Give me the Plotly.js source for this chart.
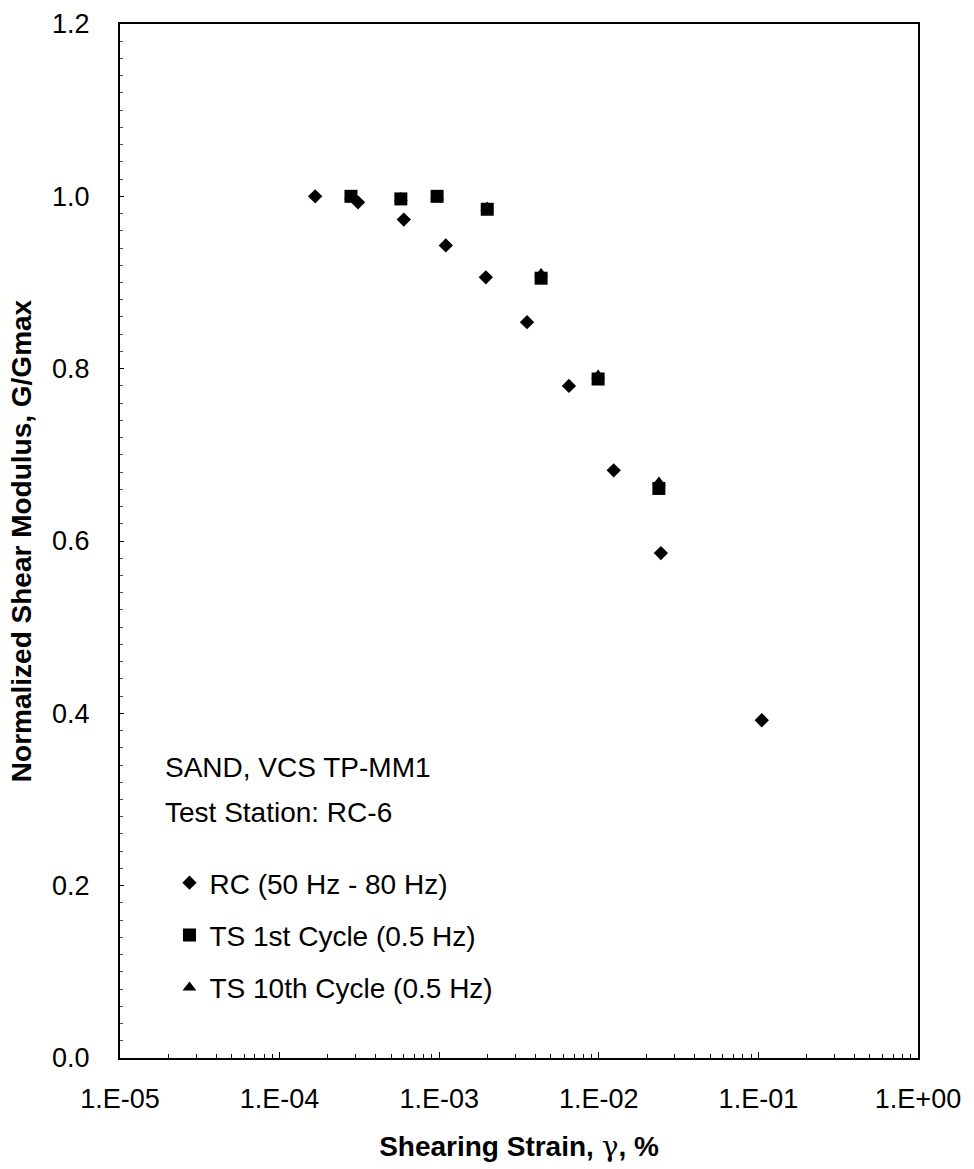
<!DOCTYPE html>
<html>
<head>
<meta charset="utf-8">
<script src="https://cdn.plot.ly/plotly-3.0.1.min.js"></script>
<style>html,body{margin:0;padding:0;background:#fff;}#chart{width:974px;height:1169px;}</style>
</head>
<body>
<div id="chart"></div>
<script>
// RC (50 Hz - 80 Hz)
const rcStrain = [1.67e-4, 3.1e-4, 6.0e-4, 1.1e-3, 1.96e-3, 3.55e-3, 6.5e-3, 1.24e-2, 2.45e-2, 1.05e-1];
const rcG      = [1.000, 0.993, 0.973, 0.943, 0.906, 0.854, 0.780, 0.682, 0.586, 0.392];
// TS 1st Cycle (0.5 Hz)
const ts1Strain = [2.8e-4, 5.75e-4, 9.7e-4, 2.0e-3, 4.35e-3, 9.9e-3, 2.38e-2];
const ts1G      = [1.000, 0.997, 1.000, 0.985, 0.905, 0.788, 0.661];
// TS 10th Cycle (0.5 Hz)
const ts10Strain = [2.8e-4, 5.75e-4, 9.7e-4, 2.0e-3, 4.35e-3, 9.9e-3, 2.38e-2];
const ts10G      = [1.000, 0.998, 1.000, 0.987, 0.910, 0.792, 0.668];

const xTickVals = [1e-5, 1e-4, 1e-3, 1e-2, 1e-1, 1];
const xTickText = ["1.E-05", "1.E-04", "1.E-03", "1.E-02", "1.E-01", "1.E+00"];
const yTickVals = [0, 0.2, 0.4, 0.6, 0.8, 1.0, 1.2];
const yTickText = ["0.0", "0.2", "0.4", "0.6", "0.8", "1.0", "1.2"];

const FONT = "Liberation Sans, Arial, sans-serif";

const traces = [
  {x: ts10Strain, y: ts10G, name: "TS 10th Cycle (0.5 Hz)", legendgroup: "c", legendrank: 3, mode: "markers", type: "scatter",
   marker: {symbol: "triangle-up", size: 12, color: "#000"}},
  {x: ts1Strain, y: ts1G, name: "TS 1st Cycle (0.5 Hz)", legendgroup: "b", legendrank: 2, mode: "markers", type: "scatter",
   marker: {symbol: "square", size: 13, color: "#000"}},
  {x: rcStrain, y: rcG, name: "RC (50 Hz - 80 Hz)", legendgroup: "a", legendrank: 1, mode: "markers", type: "scatter",
   marker: {symbol: "diamond", size: 11, color: "#000"}}
];

const layout = {
  width: 974, height: 1169,
  margin: {l: 120, r: 56, t: 24, b: 111},
  paper_bgcolor: "#fff", plot_bgcolor: "#fff",
  font: {family: FONT, size: 27, color: "#000"},
  showlegend: true,
  legend: {x: 0.062, y: 0.1934, xanchor: "left", yanchor: "top", bgcolor: "rgba(0,0,0,0)",
           font: {family: FONT, size: 28, color: "#000"}, tracegroupgap: 13, traceorder: "grouped", itemwidth: 30},
  xaxis: {
    type: "log", range: [-5, 0], tickvals: xTickVals, ticktext: xTickText,
    showgrid: false, zeroline: false, showline: true, linecolor: "#000", linewidth: 2, mirror: true,
    ticks: "inside", ticklen: 6, tickcolor: "#000", ticklabelstandoff: 16,
    minor: {ticks: "inside", ticklen: 4, tickcolor: "#000", dtick: "D1", showgrid: false},
    tickfont: {family: FONT, size: 27, color: "#000"},
    title: {text: "<b>Shearing Strain, <span style='font-family:DejaVu Serif, serif;font-weight:normal'>γ</span>, %</b>", font: {family: FONT, size: 28, color: "#000"}, standoff: 23}
  },
  yaxis: {
    range: [0, 1.2], tickvals: yTickVals, ticktext: yTickText,
    showgrid: false, zeroline: false, showline: true, linecolor: "#000", linewidth: 2, mirror: true,
    ticks: "inside", ticklen: 4, tickcolor: "#000", ticklabelstandoff: 23,
    minor: {ticks: "inside", ticklen: 3, tickcolor: "#555", dtick: 0.02, showgrid: false},
    tickfont: {family: FONT, size: 27, color: "#000"},
    title: {text: "<b>Normalized Shear Modulus, G/Gmax</b>", font: {family: FONT, size: 28, color: "#000"}, standoff: 12}
  },
  annotations: [
    {xref: "paper", yref: "paper", x: 0.054, y: 0.2814, xanchor: "left", yanchor: "middle",
     text: "SAND, VCS TP-MM1", showarrow: false, font: {family: FONT, size: 28, color: "#000"}},
    {xref: "paper", yref: "paper", x: 0.054, y: 0.2379, xanchor: "left", yanchor: "middle",
     text: "Test Station: RC-6", showarrow: false, font: {family: FONT, size: 28, color: "#000"}}
  ]
};

Plotly.newPlot("chart", traces, layout, {displayModeBar: false, staticPlot: true});
</script>
</body>
</html>
